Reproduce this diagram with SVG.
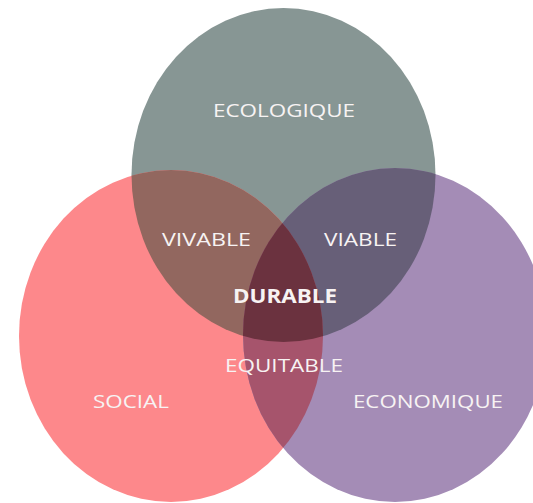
<svg xmlns="http://www.w3.org/2000/svg" width="533" height="503" viewBox="0 0 533 503">
  <style>
    .lbl { font-family: "Open Sans", "Liberation Sans", sans-serif; font-size: 19px; fill: #f7f3f3; text-anchor: start; }
    .bold { font-weight: 700; }
  </style>
  <defs>
    <ellipse id="eTop" cx="283.5" cy="175" rx="152" ry="167"/>
    <ellipse id="eLeft" cx="171" cy="336" rx="152" ry="166"/>
    <ellipse id="eRight" cx="395" cy="335" rx="152" ry="167"/>
    <clipPath id="cTop"><use href="#eTop"/></clipPath>
    <clipPath id="cRight"><use href="#eRight"/></clipPath>
  </defs>
  <rect width="533" height="503" fill="#ffffff"/>

  <g id="ecologique-circle"><use href="#eTop" fill="#879694"/></g>
  <g id="social-circle"><use href="#eLeft" fill="#fd888b"/></g>
  <g id="economique-circle"><use href="#eRight" fill="#a48cb6"/></g>

  <g id="vivable-region" clip-path="url(#cTop)"><use href="#eLeft" fill="#92675f"/></g>
  <g id="viable-region" clip-path="url(#cTop)"><use href="#eRight" fill="#675f78"/></g>
  <g id="equitable-region" clip-path="url(#cRight)"><use href="#eLeft" fill="#a6546c"/></g>
  <g id="durable-region" clip-path="url(#cTop)"><g clip-path="url(#cRight)"><use href="#eLeft" fill="#6b323f"/></g></g>

  <g id="labels">
    <text class="lbl" x="213" y="117" textLength="142" lengthAdjust="spacingAndGlyphs">ECOLOGIQUE</text>
    <text class="lbl" x="162" y="246" textLength="89" lengthAdjust="spacingAndGlyphs">VIVABLE</text>
    <text class="lbl" x="324" y="246" textLength="73" lengthAdjust="spacingAndGlyphs">VIABLE</text>
    <text class="lbl bold" x="233" y="303" textLength="104" lengthAdjust="spacingAndGlyphs">DURABLE</text>
    <text class="lbl" x="225" y="372" textLength="118" lengthAdjust="spacingAndGlyphs">EQUITABLE</text>
    <text class="lbl" x="93" y="408" textLength="76" lengthAdjust="spacingAndGlyphs">SOCIAL</text>
    <text class="lbl" x="353" y="408" textLength="150" lengthAdjust="spacingAndGlyphs">ECONOMIQUE</text>
  </g>
</svg>
